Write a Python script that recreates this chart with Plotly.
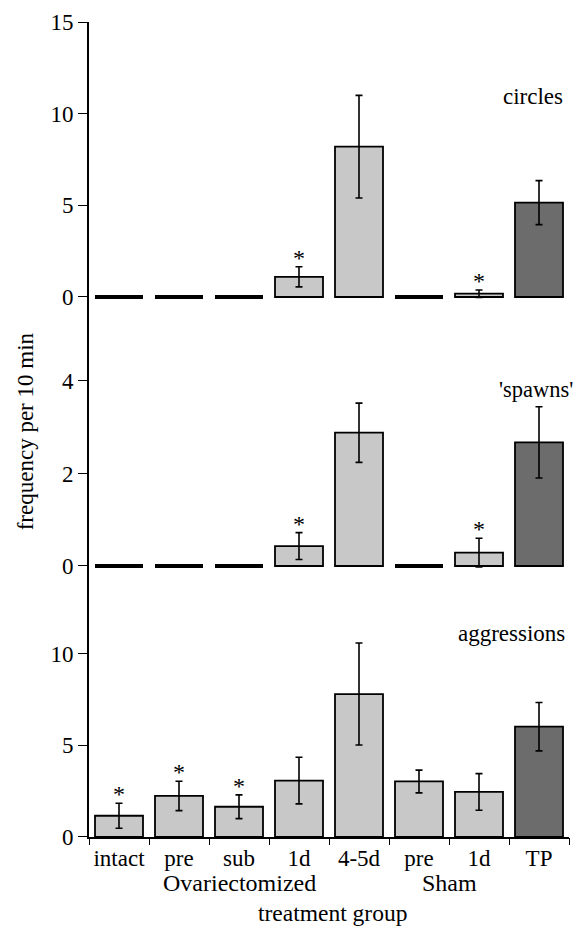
import plotly.graph_objects as go
from plotly.subplots import make_subplots

# ---- data ----
groups = ["intact", "pre", "sub", "1d", "4-5d", "pre", "1d", "TP"]
circles = [0, 0, 0, 1.1, 8.2, 0, 0.18, 5.15]
circles_err = [0, 0, 0, 0.55, 2.8, 0, 0.2, 1.2]
circles_sig = [False, False, False, True, False, False, True, False]
spawns = [0, 0, 0, 0.43, 2.88, 0, 0.29, 2.67]
spawns_err = [0, 0, 0, 0.29, 0.64, 0, 0.31, 0.77]
spawns_sig = [False, False, False, True, False, False, True, False]
aggr = [1.16, 2.24, 1.65, 3.08, 7.8, 3.03, 2.46, 6.02]
aggr_err = [0.68, 0.8, 0.65, 1.27, 2.78, 0.62, 1.0, 1.32]
aggr_sig = [True, True, True, False, False, False, False, False]
panel_names = ["circles", "'spawns'", "aggressions"]
ytick_sets = [[0, 5, 10, 15], [0, 2, 4], [0, 5, 10]]
supergroups = ["Ovariectomized", "Sham"]

FONT = "Liberation Serif"
LIGHT = "#c8c8c8"
DARK = "#6c6c6c"

xs = list(range(len(groups)))
colors = [LIGHT] * 7 + [DARK]

fig = make_subplots(rows=3, cols=1, shared_xaxes=True, vertical_spacing=0)

panels = [(circles, circles_err, circles_sig), (spawns, spawns_err, spawns_sig), (aggr, aggr_err, aggr_sig)]
for i, (vals, errs, sig) in enumerate(panels):
    row = i + 1
    fig.add_trace(go.Bar(
        x=xs, y=vals, width=0.8,
        marker=dict(color=colors,
                    line=dict(color="black", width=[4 if v == 0 else 1.8 for v in vals])),
        error_y=dict(type="data", array=[e if e > 0 else None for e in errs], visible=True,
                     color="black", thickness=1.6, width=3.5),
        showlegend=False, hoverinfo="skip",
    ), row=row, col=1)
    sx = [x for x, s in zip(xs, sig) if s]
    sy = [v + e for v, e, s in zip(vals, errs, sig) if s]
    xref = "x" if row == 1 else f"x{row}"
    yref = "y" if row == 1 else f"y{row}"
    for x, y in zip(sx, sy):
        fig.add_annotation(x=x, y=y, xref=xref, yref=yref,
                           text="*", showarrow=False, yanchor="bottom", yshift=-6,
                           font=dict(family=FONT, size=24, color="black"))

doms = [[0.6221, 1.0], [0.2908, 0.6221], [0.0, 0.2908]]
ranges = [[-1.8, 15], [-0.735, 5.10], [0, 12.93]]
for i in range(3):
    key = "yaxis" if i == 0 else f"yaxis{i+1}"
    fig.layout[key].update(
        domain=doms[i], range=ranges[i], tickvals=ytick_sets[i],
        showline=True, linecolor="black", linewidth=1.6,
        ticks="outside", ticklen=9, tickcolor="black", tickwidth=1,
        showgrid=False, zeroline=False,
        tickfont=dict(family=FONT, size=23, color="black"),
    )

for i in range(3):
    key = "xaxis" if i == 0 else f"xaxis{i+1}"
    fig.layout[key].update(range=[-0.5, 7.5], showgrid=False, zeroline=False)

fig.layout.xaxis.update(visible=False)
fig.layout.xaxis2.update(visible=False)
fig.layout.xaxis3.update(
    tickvals=xs, ticktext=groups, ticks="", showline=True, linecolor="black", linewidth=1.6,
    tickfont=dict(family=FONT, size=23, color="black"),
)
fig.update_layout(xaxis4=dict(
    overlaying="x3", anchor="y3", range=[-0.5, 7.5],
    tickvals=[x - 0.5 for x in xs] + [len(xs) - 0.5],
    ticks="outside", ticklen=7, tickcolor="black", tickwidth=1,
    showticklabels=False, showgrid=False, zeroline=False, showline=False,
))
fig.add_trace(go.Scatter(x=[], y=[], xaxis="x4", yaxis="y3", showlegend=False))

fig.add_annotation(text=panel_names[0], xref="paper", yref="paper", x=0.992, y=0.908,
                   xanchor="right", yanchor="middle", showarrow=False,
                   font=dict(family=FONT, size=23, color="black"))
fig.add_annotation(text=panel_names[1], xref="paper", yref="paper", x=1.0125, y=0.5485,
                   xanchor="right", yanchor="middle", showarrow=False,
                   font=dict(family=FONT, size=22.5, color="black"))
fig.add_annotation(text=panel_names[2], xref="paper", yref="paper", x=0.996, y=0.2503,
                   xanchor="right", yanchor="middle", showarrow=False,
                   font=dict(family=FONT, size=23, color="black"))

fig.add_annotation(text=supergroups[0], xref="x3", yref="paper", x=2, y=-0.0564,
                   yanchor="middle", showarrow=False,
                   font=dict(family=FONT, size=24, color="black"))
fig.add_annotation(text=supergroups[1], xref="x3", yref="paper", x=5.5, y=-0.0564,
                   yanchor="middle", showarrow=False,
                   font=dict(family=FONT, size=24, color="black"))
fig.add_annotation(text="treatment group", xref="paper", yref="paper", x=0.508, y=-0.0933,
                   yanchor="middle", showarrow=False,
                   font=dict(family=FONT, size=23.5, color="black"))
fig.add_annotation(text="frequency per 10 min", xref="paper", yref="paper", x=-0.133, y=0.498,
                   xanchor="center", yanchor="middle", textangle=-90, showarrow=False,
                   font=dict(family=FONT, size=23, color="black"))

fig.update_layout(
    width=578, height=927,
    margin=dict(l=89, r=9, t=22, b=90),
    paper_bgcolor="white", plot_bgcolor="white",
    font=dict(family=FONT, color="black"),
)

fig.write_html("out.html", config={"displayModeBar": False},
               post_script="document.body.style.margin='0';document.body.style.overflow='hidden';")
